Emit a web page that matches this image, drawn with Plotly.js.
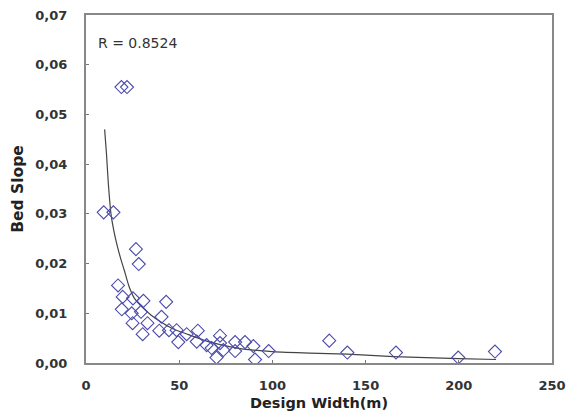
<!DOCTYPE html>
<html>
<head>
<meta charset="utf-8">
<script src="https://cdn.plot.ly/plotly-3.0.1.min.js"></script>
<style>html,body{margin:0;padding:0;background:#fff;}#chart{width:574px;height:416px;}</style>
</head>
<body>
<div id="chart"></div>
<script>
// Observed data: design width (m) and bed slope
var widthX = [9.5, 14.7, 19, 22, 26.8, 28.3, 17.2, 19.7, 19.2, 25.2, 30.8, 24.5, 29.5, 25, 33, 30.4, 43, 40.5, 39.3, 44.5,
              48.6, 49.5, 54, 60, 59.4, 64.7, 67.4, 71.9, 71.9, 70, 73.7, 80, 80, 85.3, 89.8, 90.7, 98, 130.5, 140.2, 166.3, 199.7, 219.4];
var bedSlope = [0.0303, 0.0303, 0.0555, 0.0555, 0.0229, 0.0199, 0.0156, 0.0133, 0.0108, 0.0130, 0.0125, 0.0100, 0.0103, 0.0080, 0.0080, 0.0058, 0.0123, 0.0093, 0.0065, 0.0066,
                0.0066, 0.0042, 0.0058, 0.0065, 0.0043, 0.0036, 0.0030, 0.0055, 0.0040, 0.0011, 0.0026, 0.0042, 0.0024, 0.0042, 0.0034, 0.0007, 0.0024, 0.0045, 0.0021, 0.0021, 0.0011, 0.0023];
// Fitted curve
var fitX = [10, 11, 12, 13.4, 15, 17, 19, 20.5, 23, 26, 30, 35, 40, 46, 55, 63, 72, 81, 90, 100, 120, 140, 165, 200, 220];
var fitY = [0.047, 0.042, 0.036, 0.030, 0.0265, 0.0232, 0.0205, 0.0187, 0.0155, 0.0130, 0.0113, 0.0096, 0.0083, 0.0070, 0.0057, 0.0046, 0.0037, 0.0030, 0.0026, 0.0023, 0.0020, 0.0018, 0.0013, 0.0009, 0.0007];
var xTicks = [0, 50, 100, 150, 200, 250];
var yTicks = [0, 0.01, 0.02, 0.03, 0.04, 0.05, 0.06, 0.07];
var rLabel = "R = 0.8524";

var fontFam = "DejaVu Sans, Verdana, sans-serif";
var data = [
  {x: fitX, y: fitY, type: 'scatter', mode: 'lines', line: {color: '#444444', width: 1.2, shape: 'spline', smoothing: 0.6}, hoverinfo: 'skip'},
  {x: widthX, y: bedSlope, type: 'scatter', mode: 'markers',
   marker: {symbol: 'diamond-open', size: 10, color: '#4a4aac', line: {width: 1.1, color: '#4a4aac'}}}
];
var layout = {
  width: 574, height: 416,
  margin: {l: 86, r: 22, t: 15, b: 53},
  showlegend: false,
  paper_bgcolor: '#ffffff', plot_bgcolor: '#ffffff',
  separators: ',.',
  font: {family: fontFam, size: 13, color: '#222'},
  xaxis: {
    range: [0, 250], tickvals: xTicks, ticks: 'inside', ticklen: 3, tickcolor: '#777',
    showline: true, linecolor: '#888', linewidth: 2, mirror: true, showgrid: false, zeroline: false,
    ticklabelstandoff: 9,
    tickfont: {family: fontFam, size: 13, color: '#333', weight: 'bold'},
    title: {text: 'Design Width(m)', standoff: 6, font: {family: fontFam, size: 14.5, color: '#222', weight: 'bold'}}
  },
  yaxis: {
    range: [0, 0.07], tickvals: yTicks, tickformat: '.2f', ticks: 'inside', ticklen: 3, tickcolor: '#777',
    showline: true, linecolor: '#888', linewidth: 2, mirror: true, showgrid: false, zeroline: false,
    ticklabelstandoff: 14,
    tickfont: {family: fontFam, size: 13, color: '#333', weight: 'bold'},
    title: {text: 'Bed Slope', standoff: 8, font: {family: fontFam, size: 15.5, color: '#222', weight: 'bold'}}
  },
  annotations: [{
    text: rLabel, xref: 'paper', yref: 'paper', x: 0.022, y: 0.92, xanchor: 'left', yanchor: 'middle',
    showarrow: false, font: {family: fontFam, size: 14, color: '#333'}
  }]
};
Plotly.newPlot('chart', data, layout, {displayModeBar: false, staticPlot: true});
</script>
</body>
</html>
